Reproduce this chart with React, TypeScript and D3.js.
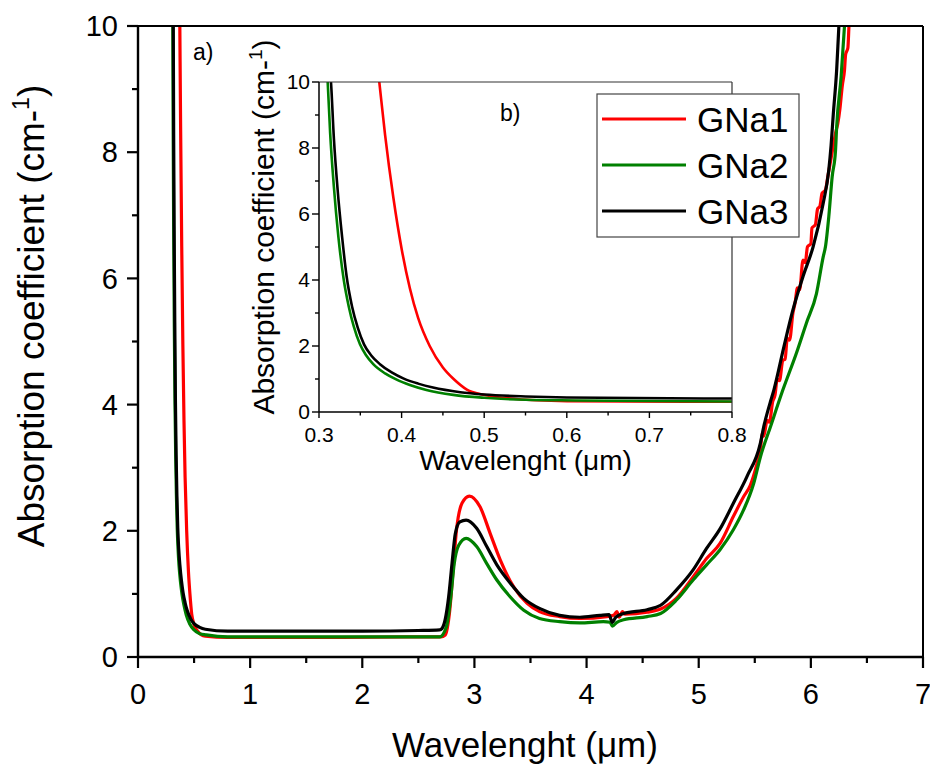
import React from 'react';
import * as d3 from 'd3';

type Pt = [number, number];

const seriesNames = ['GNa1', 'GNa2', 'GNa3'];
const seriesColors = ['#ff0000', '#008000', '#000000'];

// wavelength (µm), absorption coefficient (cm-1)
const gna1: Pt[] = [
  [0.362, 12.5], [0.373, 10.0], [0.38, 8.4], [0.39, 6.5], [0.4, 4.95], [0.41, 3.75],
  [0.42, 2.85], [0.434, 2.0], [0.45, 1.35], [0.463, 1.0], [0.479, 0.68], [0.499, 0.52],
  [0.527, 0.42], [0.6, 0.33], [0.8, 0.31], [1.2, 0.31], [1.8, 0.31], [2.4, 0.32], [2.7, 0.32],
  [2.74, 0.35], [2.78, 0.74], [2.81, 1.38], [2.84, 2.01], [2.89, 2.44], [2.955, 2.55],
  [3.05, 2.38], [3.14, 1.96], [3.23, 1.54], [3.35, 1.11], [3.47, 0.85], [3.58, 0.72],
  [3.76, 0.64], [3.94, 0.61], [4.18, 0.64], [4.24, 0.66], [4.27, 0.72], [4.29, 0.63],
  [4.32, 0.72], [4.34, 0.68], [4.54, 0.71], [4.66, 0.76], [4.8, 0.93], [4.95, 1.27],
  [5.07, 1.56], [5.19, 1.8], [5.31, 2.23], [5.4, 2.54], [5.46, 2.72], [5.51, 3.0],
  [5.55, 3.3], [5.57, 3.55], [5.58, 3.5], [5.61, 3.75], [5.63, 3.72], [5.66, 4.05],
  [5.68, 4.15], [5.7, 4.4], [5.72, 4.38], [5.75, 4.7], [5.77, 4.72], [5.79, 5.05],
  [5.81, 5.02], [5.84, 5.45], [5.86, 5.62], [5.88, 5.85], [5.9, 5.82], [5.93, 6.29],
  [5.95, 6.25], [5.97, 6.5], [6.0, 6.55], [6.01, 6.8], [6.04, 6.85], [6.06, 7.1],
  [6.08, 7.14], [6.1, 7.35], [6.13, 7.4], [6.15, 7.6], [6.18, 7.9], [6.2, 8.1],
  [6.22, 8.3], [6.24, 8.45], [6.26, 8.7], [6.28, 9.05], [6.3, 9.3], [6.31, 9.55],
  [6.33, 9.65], [6.34, 10.0], [6.36, 10.5],
];

const gna2: Pt[] = [
  [0.305, 11.3], [0.3105, 10.0], [0.3135, 8.45], [0.318, 6.83], [0.3235, 5.3], [0.33, 4.0],
  [0.336, 3.2], [0.342, 2.6], [0.3496, 2.05], [0.357, 1.72], [0.3657, 1.45], [0.38, 1.17],
  [0.394, 0.98], [0.41, 0.82], [0.43, 0.67], [0.4626, 0.52], [0.5, 0.43], [0.55, 0.37],
  [0.61, 0.35], [0.8, 0.32], [1.0, 0.32], [1.8, 0.32],
  [2.69, 0.32], [2.75, 0.48], [2.79, 0.96], [2.82, 1.48], [2.86, 1.77], [2.926, 1.88],
  [3.02, 1.75], [3.11, 1.48], [3.2, 1.22], [3.32, 0.95], [3.44, 0.74], [3.58, 0.61],
  [3.76, 0.56], [3.94, 0.54], [4.15, 0.56], [4.21, 0.55], [4.23, 0.49], [4.27, 0.55],
  [4.33, 0.59], [4.54, 0.64], [4.66, 0.69], [4.8, 0.9], [4.95, 1.22], [5.07, 1.46],
  [5.19, 1.7], [5.31, 2.02], [5.4, 2.33], [5.49, 2.75], [5.55, 3.17], [5.64, 3.65],
  [5.75, 4.23], [5.87, 4.81], [5.96, 5.29], [6.05, 5.76], [6.11, 6.34], [6.13, 6.5],
  [6.16, 6.98], [6.19, 7.61], [6.22, 8.03], [6.23, 8.4], [6.27, 9.2], [6.3, 10.0], [6.32, 10.6],
];

const gna3: Pt[] = [
  [0.309, 11.0], [0.3145, 10.0], [0.318, 8.3], [0.3225, 6.75], [0.328, 5.3], [0.3335, 4.1],
  [0.34, 3.2], [0.347, 2.55], [0.3545, 2.05], [0.363, 1.72], [0.3738, 1.45], [0.388, 1.2],
  [0.402, 1.02], [0.42, 0.86], [0.438, 0.74], [0.471, 0.6], [0.5, 0.53], [0.55, 0.47],
  [0.6, 0.44], [0.8, 0.41], [1.0, 0.41], [2.0, 0.41], [2.5, 0.42],
  [2.69, 0.43], [2.71, 0.45], [2.74, 0.6], [2.77, 0.95], [2.8, 1.48], [2.83, 1.96],
  [2.87, 2.14], [2.926, 2.17], [3.02, 2.04], [3.11, 1.75], [3.2, 1.46], [3.32, 1.17],
  [3.44, 0.93], [3.58, 0.77], [3.76, 0.66], [3.94, 0.63], [4.12, 0.66], [4.2, 0.67],
  [4.23, 0.55], [4.26, 0.63], [4.33, 0.69], [4.54, 0.75], [4.66, 0.82], [4.8, 1.06],
  [4.95, 1.38], [5.07, 1.72], [5.19, 2.03], [5.31, 2.44], [5.43, 2.86], [5.55, 3.39],
  [5.58, 3.65], [5.64, 4.05], [5.67, 4.23], [5.76, 4.92], [5.84, 5.5], [5.93, 6.03],
  [6.02, 6.5], [6.11, 7.19], [6.16, 7.72], [6.18, 8.1], [6.2, 8.6], [6.23, 9.3],
  [6.25, 10.0], [6.27, 10.6],
];

const mainXTicks = [0, 1, 2, 3, 4, 5, 6, 7];
const mainYTicks = [0, 2, 4, 6, 8, 10];
const insetXTicks = [0.3, 0.4, 0.5, 0.6, 0.7, 0.8];
const insetYTicks = [0, 2, 4, 6, 8, 10];

const font = '"Liberation Sans", Arial, Helvetica, sans-serif';

export default function App() {
  const series = [gna1, gna2, gna3];

  const x = d3.scaleLinear().domain([0, 7]).range([138, 923]);
  const y = d3.scaleLinear().domain([0, 10]).range([657, 26]);
  const ix = d3.scaleLinear().domain([0.3, 0.8]).range([319, 732]);
  const iy = d3.scaleLinear().domain([0, 10]).range([412, 82]);

  const mkLine = (sx: d3.ScaleLinear<number, number>, sy: d3.ScaleLinear<number, number>) =>
    d3.line<Pt>().x((d) => sx(d[0])).y((d) => sy(d[1])).curve(d3.curveMonotoneX);
  const mainLine = mkLine(x, y);
  const insetLine = mkLine(ix, iy);

  const mainXMinor = d3.range(0.5, 7, 1);
  const mainYMinor = d3.range(1, 10, 2);
  const insetXMinor = d3.range(0.35, 0.8, 0.1);
  const insetYMinor = d3.range(1, 10, 2);

  const [x0, x1] = x.range();
  const [y0, y1] = y.range();
  const [ix0, ix1] = ix.range();
  const [iy0, iy1] = iy.range();

  return (
    <svg width={930} height={773} style={{ position: 'absolute', left: 0, top: 0, background: '#fff' }}
      fontFamily={font}>
      <defs>
        <clipPath id="mainClip">
          <rect x={x0} y={y1} width={x1 - x0} height={y0 - y1} />
        </clipPath>
        <clipPath id="insetClip">
          <rect x={ix0} y={iy1} width={ix1 - ix0} height={iy0 - iy1} />
        </clipPath>
      </defs>
      <rect width={930} height={773} fill="#fff" />

      {/* main curves */}
      <g clipPath="url(#mainClip)" fill="none">
        {series.map((s, i) => (
          <path key={i} d={mainLine(s) || ''} stroke={seriesColors[i]} strokeWidth={3.2} strokeLinejoin="round" />
        ))}
      </g>

      {/* main frame */}
      <line x1={x0} x2={x1} y1={y1} y2={y1} stroke="#000" strokeWidth={2} />
      <line x1={x1} x2={x1} y1={y1} y2={y0} stroke="#000" strokeWidth={2} />
      <line x1={x0} x2={x1 + 1} y1={y0} y2={y0} stroke="#000" strokeWidth={2.4} />
      <line x1={x0} x2={x0} y1={y1 - 1} y2={y0} stroke="#000" strokeWidth={2.4} />

      {mainXTicks.map((t) => (
        <g key={'mx' + t}>
          <line x1={x(t)} x2={x(t)} y1={y0} y2={y0 + 11} stroke="#000" strokeWidth={2.2} />
          <text x={x(t)} y={704} fontSize={29} textAnchor="middle">{t}</text>
        </g>
      ))}
      {mainXMinor.map((t) => (
        <line key={'mxm' + t} x1={x(t)} x2={x(t)} y1={y0} y2={y0 + 6} stroke="#000" strokeWidth={2.2} />
      ))}
      {mainYTicks.map((t) => (
        <g key={'my' + t}>
          <line x1={x0 - 11} x2={x0} y1={y(t)} y2={y(t)} stroke="#000" strokeWidth={2.2} />
          <text x={118} y={y(t)} dy="0.35em" fontSize={29} textAnchor="end">{t}</text>
        </g>
      ))}
      {mainYMinor.map((t) => (
        <line key={'mym' + t} x1={x0 - 6} x2={x0} y1={y(t)} y2={y(t)} stroke="#000" strokeWidth={2.2} />
      ))}

      <text x={525} y={757} fontSize={35} textAnchor="middle">Wavelenght (μm)</text>
      <text transform="translate(44, 316) rotate(-90)" fontSize={37} textAnchor="middle">
        Absorption coefficient (cm-<tspan dy={-15} fontSize={23}>1</tspan><tspan dy={15}>)</tspan>
      </text>
      <text x={193} y={60} fontSize={23}>a)</text>

      {/* inset */}
      <rect x={ix0} y={iy1} width={ix1 - ix0} height={iy0 - iy1} fill="#fff" />
      <g clipPath="url(#insetClip)" fill="none">
        {series.map((s, i) => (
          <path key={i} d={insetLine(s) || ''} stroke={seriesColors[i]} strokeWidth={2.6} strokeLinejoin="round" />
        ))}
      </g>
      <line x1={ix0} x2={ix1} y1={iy1} y2={iy1} stroke="#333" strokeWidth={1.2} />
      <line x1={ix1} x2={ix1} y1={iy1} y2={iy0} stroke="#333" strokeWidth={1.2} />
      <line x1={ix0} x2={ix1} y1={iy0} y2={iy0} stroke="#000" strokeWidth={1.5} />
      <line x1={ix0} x2={ix0} y1={iy1} y2={iy0} stroke="#000" strokeWidth={1.5} />
      {insetXTicks.map((t) => (
        <g key={'ix' + t}>
          <line x1={ix(t)} x2={ix(t)} y1={iy0} y2={iy0 + 6} stroke="#000" strokeWidth={1.4} />
          <text x={ix(t)} y={442} fontSize={21} textAnchor="middle">{t.toFixed(1)}</text>
        </g>
      ))}
      {insetXMinor.map((t) => (
        <line key={'ixm' + t} x1={ix(t)} x2={ix(t)} y1={iy0} y2={iy0 + 3.5} stroke="#000" strokeWidth={1.4} />
      ))}
      {insetYTicks.map((t) => (
        <g key={'iy' + t}>
          <line x1={ix0 - 7} x2={ix0} y1={iy(t)} y2={iy(t)} stroke="#000" strokeWidth={1.4} />
          <text x={310} y={iy(t)} dy="0.35em" fontSize={21} textAnchor="end">{t}</text>
        </g>
      ))}
      {insetYMinor.map((t) => (
        <line key={'iym' + t} x1={ix0 - 4} x2={ix0} y1={iy(t)} y2={iy(t)} stroke="#000" strokeWidth={1.4} />
      ))}
      <text x={(ix0 + ix1) / 2} y={470} fontSize={28} textAnchor="middle">Wavelenght (μm)</text>
      <text transform="translate(274, 227) rotate(-90)" fontSize={30} textAnchor="middle">
        Absorption coefficient (cm-<tspan dy={-12} fontSize={19}>1</tspan><tspan dy={12}>)</tspan>
      </text>
      <text x={500} y={121} fontSize={23}>b)</text>

      {/* legend */}
      <rect x={597} y={94} width={202} height={143} fill="#fff" stroke="#444" strokeWidth={1.2} />
      {seriesNames.map((n, i) => {
        const ly = 119 + i * 46;
        return (
          <g key={n}>
            <line x1={602} x2={686} y1={ly} y2={ly} stroke={seriesColors[i]} strokeWidth={3} />
            <text x={697} y={ly + 13} fontSize={35}>{n}</text>
          </g>
        );
      })}
    </svg>
  );
}
